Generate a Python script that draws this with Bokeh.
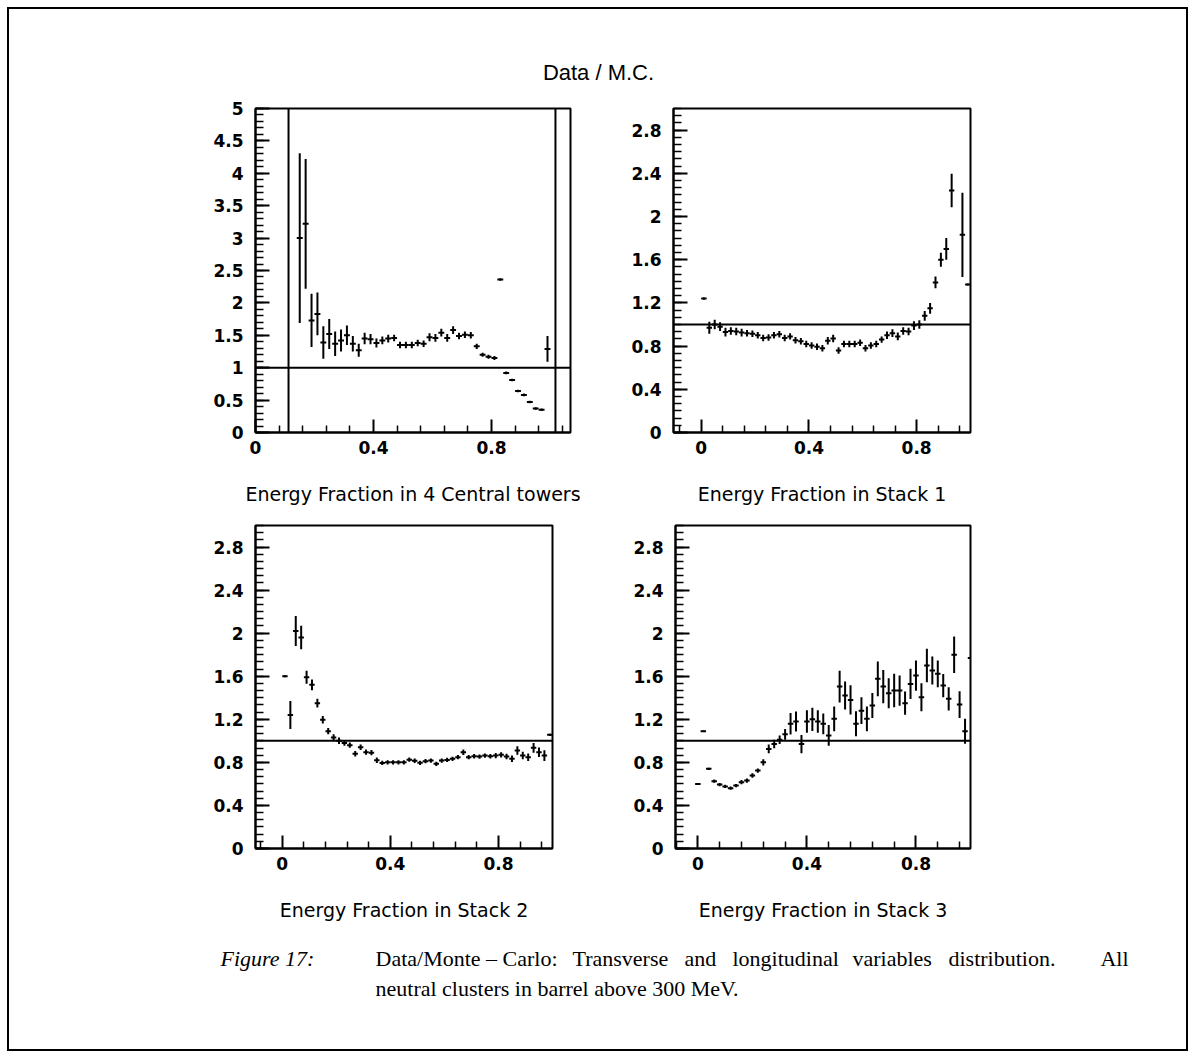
import numpy as np
from bokeh.plotting import figure
from bokeh.models import Range1d, FixedTicker, CustomJSTickFormatter, Span, Label, Spacer
from bokeh.layouts import column, row
from bokeh.embed import file_html
from bokeh.resources import INLINE

# ---------------- data ----------------
title_text = "Data / M.C."
xlabels = ["Energy Fraction in 4 Central towers", "Energy Fraction in Stack 1",
           "Energy Fraction in Stack 2", "Energy Fraction in Stack 3"]
caption_head = "Figure 17:"
caption_line1_words = ["Data/Monte \u2013 Carlo:", "Transverse", "and", "longitudinal",
                       "variables", "distribution.", "All"]
caption_line2 = "neutral clusters in barrel above 300 MeV."

x_ticks = [0, 0.4, 0.8]
y_ticks_tl = [0, 0.5, 1, 1.5, 2, 2.5, 3, 3.5, 4, 4.5, 5]
y_ticks_other = [0, 0.4, 0.8, 1.2, 1.6, 2, 2.4, 2.8]
ref_level = 1.0
tl_cuts = [0.112, 1.017]
bin_width = 0.02

tl_x = [0.15, 0.17, 0.19, 0.21, 0.23, 0.25, 0.27, 0.29, 0.31, 0.33, 0.35, 0.37, 0.39, 0.41,
        0.43, 0.45, 0.47, 0.49, 0.51, 0.53, 0.55, 0.57, 0.59, 0.61, 0.63, 0.65, 0.67, 0.69,
        0.71, 0.73, 0.75, 0.77, 0.79, 0.81, 0.83, 0.85, 0.87, 0.89, 0.91, 0.93, 0.95, 0.97, 0.99]
tl_y = [3.00, 3.22, 1.73, 1.83, 1.39, 1.52, 1.37, 1.42, 1.50, 1.37, 1.27, 1.45, 1.44, 1.38,
        1.42, 1.45, 1.46, 1.35, 1.35, 1.35, 1.38, 1.37, 1.47, 1.46, 1.54, 1.46, 1.58, 1.49,
        1.51, 1.50, 1.33, 1.20, 1.17, 1.15, 2.36, 0.92, 0.81, 0.64, 0.58, 0.47, 0.37, 0.35, 1.29]
tl_err = [1.31, 1.00, 0.41, 0.33, 0.25, 0.23, 0.19, 0.17, 0.15, 0.12, 0.10, 0.09, 0.08, 0.07,
          0.06, 0.06, 0.05, 0.05, 0.05, 0.05, 0.05, 0.05, 0.06, 0.06, 0.06, 0.06, 0.06, 0.05,
          0.05, 0.05, 0.04, 0.03, 0.03, 0.03, 0.02, 0.02, 0.02, 0.02, 0.02, 0.02, 0.02, 0.02, 0.20]

tr_x = [0.01, 0.03, 0.05, 0.07, 0.09, 0.11, 0.13, 0.15, 0.17, 0.19, 0.21, 0.23, 0.25, 0.27,
        0.29, 0.31, 0.33, 0.35, 0.37, 0.39, 0.41, 0.43, 0.45, 0.47, 0.49, 0.51, 0.53, 0.55,
        0.57, 0.59, 0.61, 0.63, 0.65, 0.67, 0.69, 0.71, 0.73, 0.75, 0.77, 0.79, 0.81, 0.83,
        0.85, 0.87, 0.89, 0.91, 0.93, 0.97, 0.99]
tr_y = [1.24, 0.97, 1.00, 0.98, 0.93, 0.94, 0.935, 0.925, 0.92, 0.915, 0.90, 0.875, 0.88, 0.90,
        0.91, 0.875, 0.89, 0.855, 0.845, 0.82, 0.805, 0.795, 0.78, 0.85, 0.87, 0.76, 0.82, 0.82,
        0.82, 0.83, 0.78, 0.805, 0.82, 0.86, 0.90, 0.92, 0.89, 0.94, 0.935, 0.99, 1.00, 1.08,
        1.15, 1.39, 1.60, 1.70, 2.24, 1.83, 1.37]
tr_err = [0.01, 0.055, 0.045, 0.04, 0.04, 0.035, 0.035, 0.035, 0.03, 0.03, 0.03, 0.03, 0.03, 0.03,
          0.03, 0.03, 0.03, 0.03, 0.03, 0.03, 0.03, 0.03, 0.03, 0.035, 0.035, 0.03, 0.03, 0.03,
          0.03, 0.03, 0.03, 0.03, 0.03, 0.03, 0.035, 0.035, 0.035, 0.035, 0.035, 0.04, 0.04, 0.045,
          0.05, 0.055, 0.065, 0.10, 0.155, 0.39, 0.01]

bl_x = [0.01, 0.03, 0.05, 0.07, 0.09, 0.11, 0.13, 0.15, 0.17, 0.19, 0.21, 0.23, 0.25, 0.27,
        0.29, 0.31, 0.33, 0.35, 0.37, 0.39, 0.41, 0.43, 0.45, 0.47, 0.49, 0.51, 0.53, 0.55,
        0.57, 0.59, 0.61, 0.63, 0.65, 0.67, 0.69, 0.71, 0.73, 0.75, 0.77, 0.79, 0.81, 0.83,
        0.85, 0.87, 0.89, 0.91, 0.93, 0.95, 0.97, 0.99]
bl_y = [1.60, 1.24, 2.02, 1.96, 1.59, 1.52, 1.35, 1.195, 1.09, 1.03, 1.00, 0.98, 0.96, 0.88,
        0.94, 0.895, 0.89, 0.82, 0.795, 0.80, 0.80, 0.80, 0.80, 0.825, 0.815, 0.796, 0.811, 0.817,
        0.786, 0.817, 0.823, 0.833, 0.848, 0.894, 0.848, 0.857, 0.854, 0.863, 0.857, 0.863, 0.87, 0.854,
        0.833, 0.91, 0.863, 0.848, 0.935, 0.894, 0.863, 1.056]
bl_err = [0.01, 0.13, 0.14, 0.11, 0.06, 0.05, 0.04, 0.035, 0.03, 0.03, 0.03, 0.025, 0.025, 0.025,
          0.025, 0.025, 0.025, 0.025, 0.02, 0.02, 0.02, 0.02, 0.02, 0.02, 0.02, 0.02, 0.02, 0.02,
          0.02, 0.02, 0.02, 0.02, 0.02, 0.025, 0.02, 0.02, 0.02, 0.02, 0.02, 0.025, 0.025, 0.025,
          0.03, 0.04, 0.035, 0.035, 0.045, 0.045, 0.05, 0.01]

br_x = [0.00, 0.02, 0.04, 0.06, 0.08, 0.10, 0.12, 0.14, 0.16, 0.18, 0.20, 0.22, 0.24, 0.26,
        0.28, 0.30, 0.32, 0.34, 0.36, 0.38, 0.40, 0.42, 0.44, 0.46, 0.48, 0.50, 0.52, 0.54,
        0.56, 0.58, 0.60, 0.62, 0.64, 0.66, 0.68, 0.70, 0.72, 0.74, 0.76, 0.78, 0.80, 0.82,
        0.84, 0.86, 0.88, 0.90, 0.92, 0.94, 0.96, 0.98, 1.00]
br_y = [0.60, 1.09, 0.74, 0.625, 0.594, 0.576, 0.56, 0.585, 0.616, 0.631, 0.678, 0.724, 0.80, 0.925,
        0.97, 1.01, 1.06, 1.158, 1.18, 0.97, 1.18, 1.20, 1.18, 1.158, 1.05, 1.204, 1.504, 1.42,
        1.38, 1.158, 1.28, 1.204, 1.328, 1.576, 1.504, 1.442, 1.467, 1.467, 1.35, 1.529, 1.606, 1.405,
        1.70, 1.653, 1.622, 1.513, 1.39, 1.80, 1.337, 1.09, 1.77]
br_err = [0.005, 0.005, 0.01, 0.015, 0.015, 0.015, 0.015, 0.015, 0.02, 0.02, 0.02, 0.02, 0.03, 0.04,
          0.04, 0.04, 0.05, 0.10, 0.093, 0.085, 0.105, 0.108, 0.105, 0.097, 0.096, 0.115, 0.147, 0.13,
          0.136, 0.116, 0.124, 0.116, 0.116, 0.162, 0.155, 0.14, 0.155, 0.14, 0.108, 0.14, 0.14, 0.13,
          0.155, 0.13, 0.124, 0.108, 0.108, 0.17, 0.124, 0.116, 0.005]

# ---------------- styling ----------------
TICK_FONT = "DejaVu Sans"
LABEL_FONT = "DejaVu Sans"
SERIF = "Liberation Serif"

fmt = CustomJSTickFormatter(code="return String(Math.round(tick*100)/100);")


def panel(xr, yr, fw, fh, mtop, yticks, ystep, xs, ys, es, label, cuts=()):
    p = figure(x_range=Range1d(*xr), y_range=Range1d(*yr),
               frame_width=fw, frame_height=fh,
               min_border_left=60, min_border_right=10,
               min_border_top=mtop, min_border_bottom=88,
               output_backend="svg", toolbar_location=None)
    p.background_fill_color = "white"
    p.border_fill_color = "white"
    p.grid.visible = False
    p.outline_line_color = "black"
    p.outline_line_width = 2

    xminor = [round(v, 3) for v in np.arange(-0.08, xr[1] + 1e-9, 0.08) if abs(round(v / 0.4) * 0.4 - v) > 1e-6]
    p.xaxis.ticker = FixedTicker(ticks=x_ticks, minor_ticks=xminor)
    yminor = [round(v, 4) for v in np.arange(0, yr[1] + 1e-9, ystep)]
    p.yaxis.ticker = FixedTicker(ticks=yticks, minor_ticks=yminor)
    for ax in (p.xaxis[0], p.yaxis[0]):
        ax.formatter = fmt
        ax.axis_line_width = 2
        ax.axis_line_color = "black"
        ax.major_tick_line_width = 2
        ax.minor_tick_line_width = 1.5
        ax.major_tick_line_color = "black"
        ax.minor_tick_line_color = "black"
        ax.major_tick_out = 0
        ax.minor_tick_out = 0
        ax.major_label_text_font = TICK_FONT
        ax.major_label_text_font_style = "bold"
        ax.major_label_text_font_size = "17px"
        ax.major_label_text_color = "black"
    p.xaxis.major_tick_in = 13
    p.xaxis.minor_tick_in = 7
    p.yaxis.major_tick_in = 14
    p.yaxis.minor_tick_in = 8
    p.xaxis.major_label_standoff = 8
    p.yaxis.major_label_standoff = 12
    p.xaxis.axis_label = label
    p.xaxis.axis_label_text_font = LABEL_FONT
    p.xaxis.axis_label_text_font_style = "normal"
    p.xaxis.axis_label_text_font_size = "19px"
    p.xaxis.axis_label_text_color = "black"
    p.xaxis.axis_label_standoff = 26

    p.add_layout(Span(location=ref_level, dimension="width", line_color="black", line_width=2))
    for c in cuts:
        p.add_layout(Span(location=c, dimension="height", line_color="black", line_width=2))

    xs = np.asarray(xs); ys = np.asarray(ys); es = np.asarray(es)
    p.segment(x0=xs, y0=ys - es, x1=xs, y1=ys + es, line_color="black", line_width=2)
    p.segment(x0=xs - bin_width / 2, y0=ys, x1=xs + bin_width / 2, y1=ys,
              line_color="black", line_width=2)
    return p


tl = panel((0, 1.068), (0, 5), 315, 324, 20, y_ticks_tl, 0.1, tl_x, tl_y, tl_err, xlabels[0], tl_cuts)
tr = panel((-0.103, 1.0), (0, 3), 297, 324, 20, y_ticks_other, 0.2 / 3, tr_x, tr_y, tr_err, xlabels[1])
bl = panel((-0.099, 1.0), (0, 3), 297, 323, 5, y_ticks_other, 0.2 / 3, bl_x, bl_y, bl_err, xlabels[2])
br = panel((-0.082, 1.0), (0, 3), 295, 323, 5, y_ticks_other, 0.2 / 3, br_x, br_y, br_err, xlabels[3])


def canvas(h, ytop):
    c = figure(x_range=Range1d(0, 1195), y_range=Range1d(ytop + h, ytop),
               frame_width=1195, frame_height=h, min_border=0,
               x_axis_location=None, y_axis_location=None,
               output_backend="svg", toolbar_location=None)
    c.grid.visible = False
    c.outline_line_color = None
    c.background_fill_alpha = 0
    c.border_fill_alpha = 0
    return c


header = canvas(88, 0)
header.add_layout(Label(x=598, y=72, text=title_text, text_align="center", text_baseline="middle",
                        text_font="Liberation Sans", text_font_size="22px", text_color="black"))

caption = canvas(122, 936)
cap_font = dict(text_font=SERIF, text_font_size="22px", text_baseline="middle", text_color="black")
caption.add_layout(Label(x=220, y=958, text=caption_head, text_font_style="italic", **cap_font))
word_x = [375, 572, 684, 732, 852, 948]
for wx, w in zip(word_x, caption_line1_words[:-1]):
    caption.add_layout(Label(x=wx, y=958, text=w, **cap_font))
caption.add_layout(Label(x=1128, y=958, text=caption_line1_words[-1], text_align="right", **cap_font))
caption.add_layout(Label(x=375, y=988, text=caption_line2, **cap_font))

row1 = row(Spacer(width=195, height=432), tl, Spacer(width=33, height=432), tr)
row2 = row(Spacer(width=195, height=416), bl, Spacer(width=53, height=416), br)
root = column(header, row1, row2, caption,
              styles={"outline": "2px solid black", "outline-offset": "-9px", "background": "white"})

open("out.html", "w").write(file_html(root, INLINE))
